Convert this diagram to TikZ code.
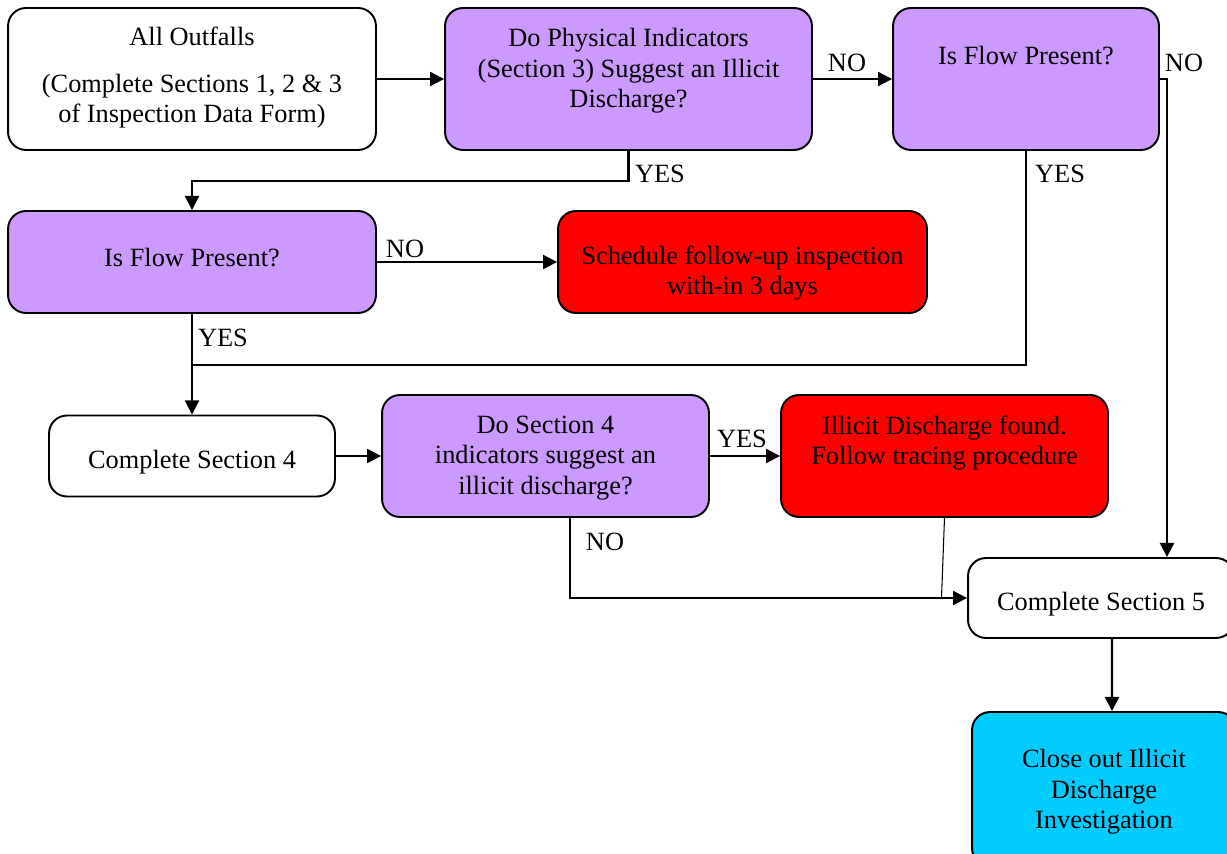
\documentclass[tikz,border=0pt]{standalone}
\usepackage{fontspec}
\setmainfont{Liberation Serif}
\usetikzlibrary{arrows.meta,positioning,calc}
\definecolor{decide}{RGB}{204,153,255}
\definecolor{alert}{RGB}{255,0,0}
\definecolor{closeout}{RGB}{0,204,255}

\begin{document}
\begin{tikzpicture}[
  x=0.02cm,y=-0.02cm,
  box/.style={rectangle,draw,line width=1.1pt,rounded corners=0.36cm,inner sep=0pt},
  txt/.style={align=center,font=\fontsize{15}{17.4}\selectfont,inner sep=0pt},
  lbl/.style={font=\fontsize{15}{17}\selectfont,inner sep=1pt},
  flow/.style={line width=1.2pt,-{Triangle[length=8pt,width=8pt]}},
  link/.style={line width=1.2pt}
]
\useasboundingbox (0,0) rectangle (1227,854);

% boxes
\node[box,fill=white,minimum width=7.36cm,minimum height=2.84cm] (outfalls) at (192,79) {};
\node[box,fill=decide,minimum width=7.34cm,minimum height=2.84cm] (physical) at (628.5,79) {};
\node[box,fill=decide,minimum width=5.32cm,minimum height=2.84cm] (flowA) at (1026,79) {};
\node[box,fill=decide,minimum width=7.36cm,minimum height=2.04cm] (flowB) at (192,262) {};
\node[box,fill=alert,minimum width=7.38cm,minimum height=2.04cm] (schedule) at (742.5,262) {};
\node[box,fill=white,minimum width=5.72cm,minimum height=1.62cm] (sec4) at (192,456) {};
\node[box,fill=decide,minimum width=6.54cm,minimum height=2.44cm] (ind4) at (545.5,456) {};
\node[box,fill=alert,minimum width=6.54cm,minimum height=2.44cm] (found) at (944.5,456) {};
\node[box,fill=white,minimum width=5.32cm,minimum height=1.6cm] (sec5) at (1101,598) {};
\node[box,fill=closeout,minimum width=5.28cm,minimum height=3.08cm] (close) at (1104,789) {};

% texts
\node[txt] (outfalls-t) at (192,78) {All Outfalls\\[9pt](Complete Sections 1, 2 \& 3\\of Inspection Data Form)};
\node[txt] (physical-t) at (628.5,71) {Do Physical Indicators\\(Section 3) Suggest an Illicit\\Discharge?};
\node[txt] (flowA-t) at (1026,56) {Is Flow Present?};
\node[txt] (flowB-t) at (192,258) {Is Flow Present?};
\node[txt] (schedule-t) at (742.5,273) {Schedule follow-up inspection\\with-in 3 days};
\node[txt] (sec4-t) at (192,462) {Complete Section 4};
\node[txt] (ind4-t) at (545.5,458) {Do Section 4\\indicators suggest an\\illicit discharge?};
\node[txt] (found-t) at (944.5,443) {Illicit Discharge found.\\Follow tracing procedure};
\node[txt] (sec5-t) at (1101,604) {Complete Section 5};
\node[txt] (close-t) at (1104,792) {Close out Illicit\\Discharge\\Investigation};

% connectors
\coordinate (join) at (192,365);
\draw[flow] (outfalls.east) -- (physical.west);
\draw[flow] (physical.east) -- (flowA.west);
\draw[flow] (physical.south) -- ++(0,30) -| (flowB.north);
\draw[link] (flowA.south) |- (join);
\draw[flow] (flowA.east) -| ([xshift=1.32cm]sec5.north);
\draw[flow] (flowB.east) -- (schedule.west);
\draw[flow] (flowB.south) -- (sec4.north);
\draw[flow] (sec4.east) -- (ind4.west);
\draw[flow] (ind4.east) -- (found.west);
\draw[flow] ([xshift=0.49cm]ind4.south) |- (sec5.west);
\draw[line width=0.6pt] (found.south) -- ([xshift=-0.06cm]found.south |- sec5.west);
\draw[flow] ([xshift=0.22cm]sec5.south) -- ([xshift=0.16cm]close.north);

% branch labels
\node[lbl] (no1) at (847,63) {NO};
\node[lbl] (yes1) at (660,174) {YES};
\node[lbl] (yes2) at (1060,174) {YES};
\node[lbl] (no2) at (1184,63) {NO};
\node[lbl] (no3) at (405,249) {NO};
\node[lbl] (yes3) at (223,338) {YES};
\node[lbl] (yes4) at (742,439) {YES};
\node[lbl] (no4) at (605,542) {NO};
\end{tikzpicture}
\end{document}
